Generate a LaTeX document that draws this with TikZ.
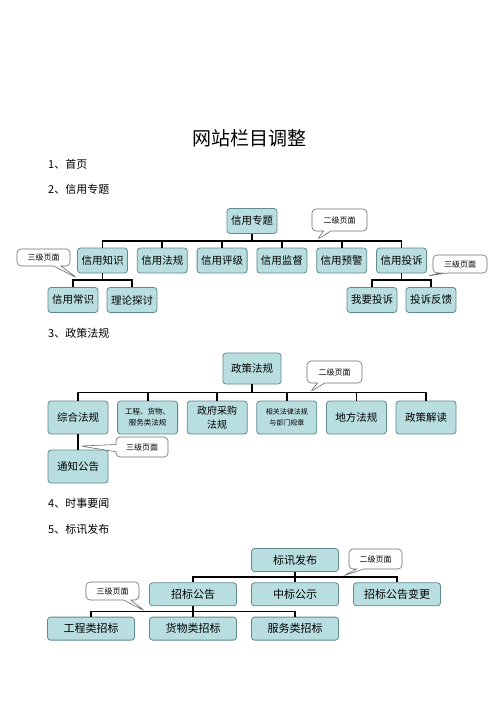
\documentclass[tikz,border=0pt]{standalone}
\usepackage{fontspec}
\setmainfont{Noto Sans CJK SC}
\usetikzlibrary{shapes.callouts,calc}
\definecolor{lanlv}{HTML}{B9DEE0}
\definecolor{lanbian}{HTML}{5F8A8E}

\begin{document}
\begin{tikzpicture}[x=1pt,y=-1pt,
    edge from parent path={(\tikzparentnode.south) |- ($(\tikzparentnode.south)!.5!(\tikzchildnode.north)$) -| (\tikzchildnode.north)}]
        \tikzstyle{lanmu}=[draw=lanbian,fill=lanlv,rounded corners=3pt,line width=0.8pt,inner sep=1pt,align=center,font=\fontsize{10.5}{12}\selectfont]
        \tikzstyle{tishi}=[rectangle callout,draw=gray!85!black,fill=white,rounded corners=4pt,line width=0.6pt,inner sep=1pt,font=\fontsize{8}{9}\selectfont]
        \tikzstyle{zhengwen}=[anchor=west,inner sep=0pt,font=\fontsize{11}{13}\selectfont]
        \tikzstyle{edge from parent}=[draw,line width=1.8pt]
        \useasboundingbox[fill=white] (0,0) rectangle (500,707);
        % titles
        \node[inner sep=0pt,font=\fontsize{19}{22}\selectfont] (biaoti) at (249,138) {网站栏目调整};
        \node[zhengwen] (shouye) at (48,164) {1、首页};
        \node[zhengwen] (xinyong) at (48,189) {2、信用专题};
        \node[zhengwen] (zhengce) at (48,333) {3、政策法规};
        \node[zhengwen] (shishi) at (48,503) {4、时事要闻};
        \node[zhengwen] (biaoxun) at (48,529) {5、标讯发布};
        % 2 xinyong zhuanti
        \begin{scope}[level distance=39.5pt]
        \tikzstyle{lanmu1}=[lanmu,minimum width=50pt,minimum height=25pt]
        \tikzstyle{level 1}=[sibling distance=59.8pt]
        \tikzstyle{level 2}=[sibling distance=59pt]
        \node[lanmu1] (xyzt) at (252,221) {信用专题}
            child {node[lanmu1] (xyzs) {信用知识} child {node[lanmu1] (xycs) {信用常识}} child {node[lanmu1] (lltt) {理论探讨}}}
            child {node[lanmu1] (xyfg) {信用法规}}
            child {node[lanmu1] (xypj) {信用评级}}
            child {node[lanmu1] (xyjd) {信用监督}}
            child {node[lanmu1] (xyyj) {信用预警}}
            child {node[lanmu1] (xyts) {信用投诉} child {node[lanmu1] (wyts) {我要投诉}} child {node[lanmu1] (tsfk) {投诉反馈}}};
        \end{scope}
        \coordinate (jian1) at (317,240);
        \coordinate (jian2) at (77,278);
        \coordinate (jian3) at (427,276);
        \node[tishi,minimum width=55pt,minimum height=22pt,callout absolute pointer={(jian1)}] (erji1) at (339.5,220) {二级页面};
        \node[tishi,minimum width=53pt,minimum height=17pt,callout absolute pointer={(jian2)}] (sanji1) at (43.5,257.5) {三级页面};
        \node[tishi,minimum width=54pt,minimum height=18pt,callout absolute pointer={(jian3)}] (sanji2) at (460,264) {三级页面};
        % 3 zhengce fagui
        \begin{scope}[level distance=49pt]
        \tikzstyle{lanmu2}=[lanmu,minimum width=60pt,minimum height=33pt]
        \tikzstyle{level 1}=[sibling distance=69.6pt]
        \node[lanmu,minimum width=58pt,minimum height=31pt] (zcfg) at (252,368.5) {政策法规}
            child {node[lanmu2] (zhfg) {综合法规} child {node[lanmu2] (tzgg) {通知公告}}}
            child {node[lanmu2,font=\fontsize{7.5}{11}\selectfont] (gcfg) {工程、货物、\\服务类法规}}
            child {node[lanmu2,font=\fontsize{10}{14}\selectfont] (zfcg) {政府采购\\法规}}
            child {node[lanmu2,font=\fontsize{7}{11}\selectfont] (xgfl) {相关法律法规\\与部门规章}}
            child {node[lanmu2] (dffg) {地方法规}}
            child {node[lanmu2] (zcjd) {政策解读}};
        \end{scope}
        \coordinate (jian4) at (310,392);
        \coordinate (jian5) at (80,446);
        \node[tishi,minimum width=55pt,minimum height=22pt,callout absolute pointer={(jian4)}] (erji2) at (334.5,372) {二级页面};
        \node[tishi,minimum width=52pt,minimum height=20pt,callout absolute pointer={(jian5)}] (sanji3) at (142,447) {三级页面};
        % 5 biaoxun fabu
        \begin{scope}[level distance=34.3pt]
        \tikzstyle{lanmu3}=[lanmu,minimum width=87pt,minimum height=23pt,font=\fontsize{11}{13}\selectfont]
        \tikzstyle{level 1}=[sibling distance=102pt]
        \tikzstyle{level 2}=[sibling distance=102pt]
        \node[lanmu3] (bxfb) at (295,560) {标讯发布}
            child {node[lanmu3] (zbgg) {招标公告} child {node[lanmu3] (gczb) {工程类招标}} child {node[lanmu3] (hwzb) {货物类招标}} child {node[lanmu3] (fwzb) {服务类招标}}}
            child {node[lanmu3] (zbgs) {中标公示}}
            child {node[lanmu3] (zbbg) {招标公告变更}};
        \end{scope}
        \coordinate (jian6) at (343,576);
        \coordinate (jian7) at (145,611);
        \node[tishi,minimum width=53pt,minimum height=20pt,callout absolute pointer={(jian6)}] (erji3) at (375.5,559) {二级页面};
        \node[tishi,minimum width=53pt,minimum height=18pt,callout absolute pointer={(jian7)}] (sanji4) at (112.5,591) {三级页面};
    \end{tikzpicture}
\end{document}
